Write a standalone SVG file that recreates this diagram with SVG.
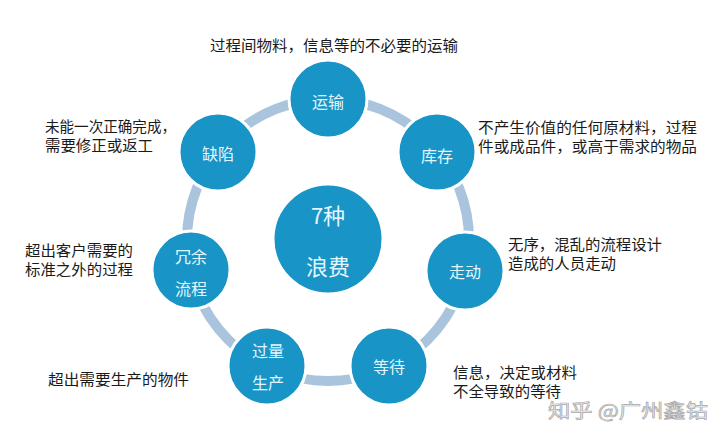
<svg xmlns="http://www.w3.org/2000/svg" width="723" height="440" viewBox="0 0 723 440">
<style>
.node{fill:#1894c6;stroke:#ffffff;stroke-width:3}
.lbl{font-family:"Noto Sans CJK SC","Noto Sans",sans-serif;fill:#e4f7ff;text-anchor:middle;dominant-baseline:central}
.desc{font-family:"Noto Sans CJK SC","Noto Sans",sans-serif;fill:#1a1a1a;font-size:15px}
.wm{font-family:"Noto Sans CJK SC","Noto Sans",sans-serif;font-size:19px;fill:#f2f2f2;stroke:#a8a8a8;stroke-width:0.7}
</style>
<rect width="723" height="440" fill="#ffffff"/>
<g id="connectors">
<circle cx="328" cy="240" r="141" fill="none" stroke="#a9c4dc" stroke-width="10"/>
</g>
<g id="center">
<circle class="node" cx="328" cy="239" r="55"/>
<text class="lbl" x="328" y="214" font-size="22">7种</text>
<text class="lbl" x="328" y="265" font-size="22">浪费</text>
</g>
<g id="n-transport">
<circle class="node" cx="328" cy="99" r="39"/>
<text class="lbl" x="328" y="101" font-size="16">运输</text>
</g>
<g id="n-inventory">
<circle class="node" cx="437" cy="152" r="39"/>
<text class="lbl" x="437" y="155" font-size="16">库存</text>
</g>
<g id="n-motion">
<circle class="node" cx="465" cy="271" r="39"/>
<text class="lbl" x="465" y="271" font-size="16">走动</text>
</g>
<g id="n-waiting">
<circle class="node" cx="389" cy="366" r="39"/>
<text class="lbl" x="389" y="366" font-size="16">等待</text>
</g>
<g id="n-overproduction">
<circle class="node" cx="267" cy="366" r="39"/>
<text class="lbl" x="268" y="350" font-size="16">过量</text>
<text class="lbl" x="268" y="382" font-size="16">生产</text>
</g>
<g id="n-overprocessing">
<circle class="node" cx="191" cy="270" r="39"/>
<text class="lbl" x="191" y="256" font-size="16">冗余</text>
<text class="lbl" x="191" y="288" font-size="16">流程</text>
</g>
<g id="n-defects">
<circle class="node" cx="218" cy="152" r="39"/>
<text class="lbl" x="218" y="153" font-size="16">缺陷</text>
</g>
<g id="descriptions">
<text class="desc" x="210" y="51" textLength="248" lengthAdjust="spacingAndGlyphs">过程间物料，信息等的不必要的运输</text>
<text class="desc" x="45" y="132" textLength="131" lengthAdjust="spacingAndGlyphs">未能一次正确完成，</text>
<text class="desc" x="45" y="151" textLength="108" lengthAdjust="spacingAndGlyphs">需要修正或返工</text>
<text class="desc" x="478" y="133" textLength="219" lengthAdjust="spacingAndGlyphs">不产生价值的任何原材料，过程</text>
<text class="desc" x="478" y="152" textLength="219" lengthAdjust="spacingAndGlyphs">件或成品件，或高于需求的物品</text>
<text class="desc" x="25" y="256" textLength="108" lengthAdjust="spacingAndGlyphs">超出客户需要的</text>
<text class="desc" x="25" y="275" textLength="108" lengthAdjust="spacingAndGlyphs">标准之外的过程</text>
<text class="desc" x="508" y="250" textLength="154" lengthAdjust="spacingAndGlyphs">无序，混乱的流程设计</text>
<text class="desc" x="508" y="269" textLength="108" lengthAdjust="spacingAndGlyphs">造成的人员走动</text>
<text class="desc" x="48" y="385" textLength="141" lengthAdjust="spacingAndGlyphs">超出需要生产的物件</text>
<text class="desc" x="453" y="378" textLength="124" lengthAdjust="spacingAndGlyphs">信息，决定或材料</text>
<text class="desc" x="453" y="397" textLength="108" lengthAdjust="spacingAndGlyphs">不全导致的等待</text>
</g>
<text class="wm" x="548" y="418" textLength="160" lengthAdjust="spacingAndGlyphs">知乎 @广州鑫钴</text>
</svg>
